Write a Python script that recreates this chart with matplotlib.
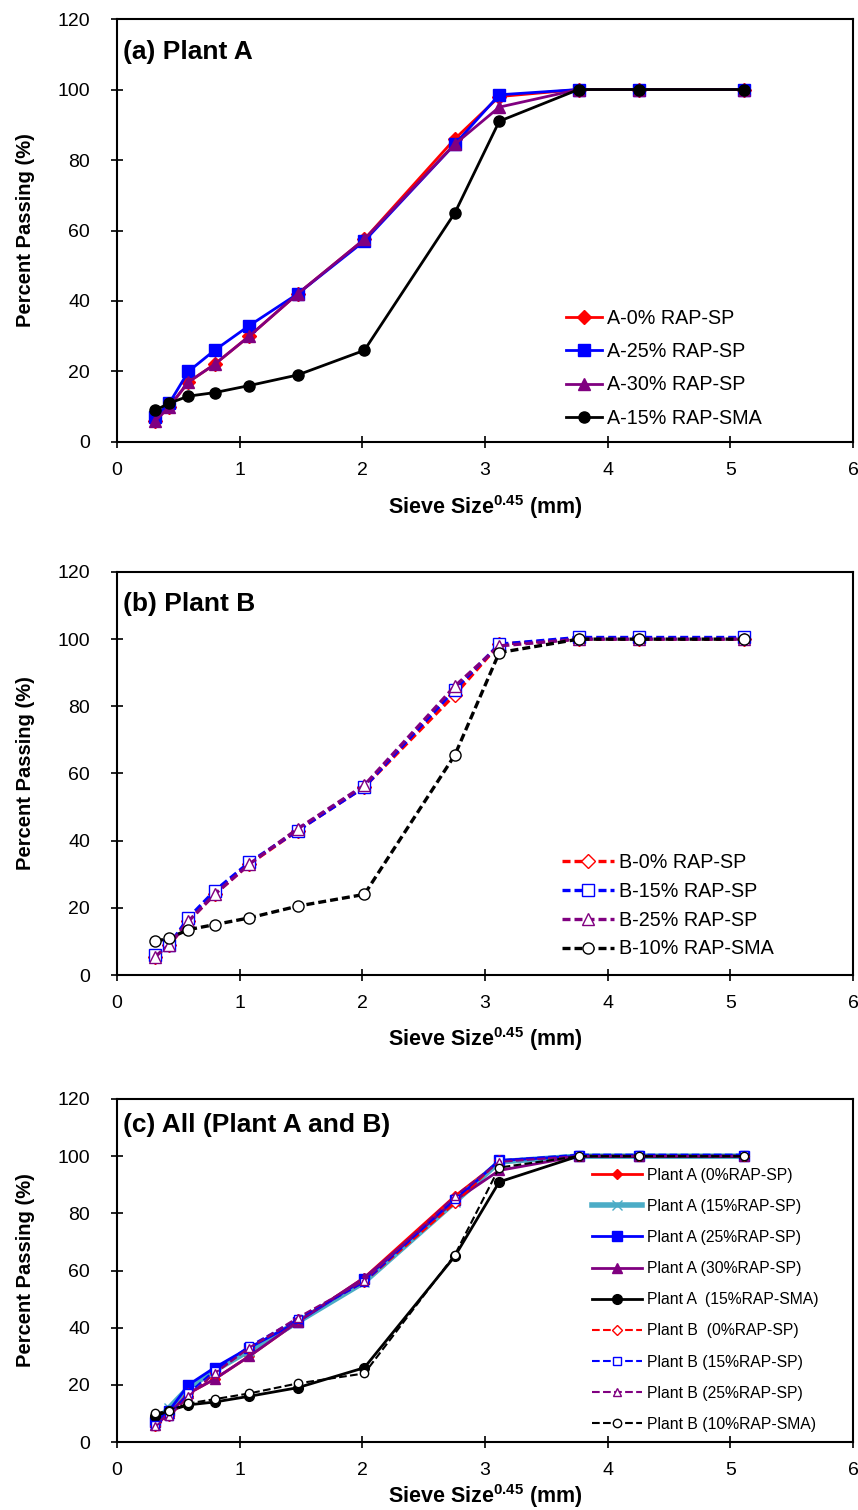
import matplotlib

matplotlib.use("Agg")
import matplotlib.pyplot as plt
import numpy as np

plt.rcParams["font.family"] = ["Liberation Sans", "DejaVu Sans"]
plt.rcParams["mathtext.fontset"] = "custom"
plt.rcParams["mathtext.rm"] = "Liberation Sans"
plt.rcParams["mathtext.bf"] = "Liberation Sans:bold"

# sieve openings (mm); plotted on the 0.45 power scale
sieve_mm = [0.075, 0.15, 0.3, 0.6, 1.18, 2.36, 4.75, 9.5, 12.5, 19.0, 25.0, 37.5]

a_0_sp = [6, 10, 17, 22, 30, 42, 57.5, 86, 98, 100, 100, 100]
a_15_sp = [7, 12, 19, 25, 32, 42, 56, 84, 98, 100, 100, 100]
a_25_sp = [7, 11, 20, 26, 33, 42, 57, 84.5, 98.5, 100, 100, 100]
a_30_sp = [6, 10, 17, 22, 30, 42, 57.5, 84.5, 95, 100, 100, 100]
a_15_sma = [9, 11, 13, 14, 16, 19, 26, 65, 91, 100, 100, 100]

b_0_sp = [5.5, 9, 16, 24, 33, 43, 56, 83.5, 98.5, 100, 100, 100]
b_15_sp = [6, 9, 17, 25, 33.5, 43, 56, 85, 98.5, 100.5, 100.5, 100.5]
b_25_sp = [5.5, 9, 16, 24, 33, 43.5, 56.5, 86, 98, 100, 100, 100]
b_10_sma = [10, 11, 13.5, 15, 17, 20.5, 24, 65.5, 96, 100, 100, 100]

x = np.array(sieve_mm) ** 0.45

RED, BLUE, PURPLE, BLACK, CYAN = "#FF0000", "#0000FF", "#800080", "#000000", "#4BACC6"
H_PX = 1510

fig = plt.figure(figsize=(8.58, 15.10), dpi=100)
L, W = 0.1364, 0.8578
ax_a = fig.add_axes([L, 0.7073, W, 0.2801])
ax_b = fig.add_axes([L, 0.3543, W, 0.2669])
ax_c = fig.add_axes([L, 0.0450, W, 0.2272])


def frame(ax, title, title_dy, xlab_dy):
    ax.set_xlim(0, 6)
    ax.set_ylim(0, 120)
    ax.set_xticks(range(0, 7))
    ax.set_yticks(range(0, 121, 20))
    ax.tick_params(direction="inout", length=9, width=1.2, labelsize=14)
    ax.tick_params(axis="y", pad=15)
    ax.tick_params(axis="x", pad=10)
    for s in ax.spines.values():
        s.set_linewidth(1.5)
    h = ax.get_position().height * H_PX
    ax.set_xlabel(r"Sieve Size$^{\mathbf{0.45}}$ (mm)", fontsize=15.5, fontweight="bold")
    ax.xaxis.set_label_coords(0.5, -xlab_dy / h)
    ax.set_ylabel("Percent Passing (%)", fontsize=14.5, fontweight="bold")
    ax.yaxis.set_label_coords(-0.111, 0.5)
    ax.annotate(title, xy=(0, 1), xycoords="axes fraction", xytext=(6, -title_dy),
                textcoords="offset pixels", fontsize=19, fontweight="bold", va="center", ha="left")


# (a) Plant A
ax_a.plot(x, a_0_sp, color=RED, lw=2, marker="D", ms=7, label="A-0% RAP-SP")
ax_a.plot(x, a_25_sp, color=BLUE, lw=2, marker="s", ms=8, label="A-25% RAP-SP")
ax_a.plot(x, a_30_sp, color=PURPLE, lw=2, marker="^", ms=9, label="A-30% RAP-SP")
ax_a.plot(x, a_15_sma, color=BLACK, lw=2, marker="o", ms=8, label="A-15% RAP-SMA")
frame(ax_a, "(a) Plant A", 33, 51)
ax_a.legend(loc="center left", bbox_to_anchor=(0.610, 0.174), frameon=False, fontsize=14.2,
            handlelength=1.85, handletextpad=0.25, labelspacing=0.72, borderpad=0, borderaxespad=0)

# (b) Plant B
dash = (0, (2.4, 1.2))
ax_b.plot(x, b_0_sp, color=RED, lw=2.4, ls=dash, marker="D", ms=7, mfc="white", mew=1, label="B-0% RAP-SP")
ax_b.plot(x, b_15_sp, color=BLUE, lw=2.4, ls=dash, marker="s", ms=8, mfc="white", mew=1, label="B-15% RAP-SP")
ax_b.plot(x, b_25_sp, color=PURPLE, lw=2.4, ls=dash, marker="^", ms=9, mfc="white", mew=1, label="B-25% RAP-SP")
ax_b.plot(x, b_10_sma, color=BLACK, lw=2.4, ls=dash, marker="o", ms=8, mfc="white", mew=1, label="B-10% RAP-SMA")
frame(ax_b, "(b) Plant B", 32, 50)
ax_b.legend(loc="center left", bbox_to_anchor=(0.605, 0.172), frameon=False, fontsize=14.2,
            handlelength=2.6, handletextpad=0.25, labelspacing=0.5, borderpad=0, borderaxespad=0)

# (c) both plants
ax_c.plot(x, a_0_sp, color=RED, lw=2, marker="D", ms=5, label="Plant A (0%RAP-SP)")
ax_c.plot(x, a_15_sp, color=CYAN, lw=4, marker="x", ms=7, mew=1, label="Plant A (15%RAP-SP)")
ax_c.plot(x, a_25_sp, color=BLUE, lw=2, marker="s", ms=7, label="Plant A (25%RAP-SP)")
ax_c.plot(x, a_30_sp, color=PURPLE, lw=2, marker="^", ms=7, label="Plant A (30%RAP-SP)")
ax_c.plot(x, a_15_sma, color=BLACK, lw=2, marker="o", ms=7, label="Plant A  (15%RAP-SMA)")
ax_c.plot(x, b_0_sp, color=RED, lw=1.5, ls="--", marker="D", ms=5, mfc="white", label="Plant B  (0%RAP-SP)")
ax_c.plot(x, b_15_sp, color=BLUE, lw=1.5, ls="--", marker="s", ms=6, mfc="white", label="Plant B (15%RAP-SP)")
ax_c.plot(x, b_25_sp, color=PURPLE, lw=1.5, ls="--", marker="^", ms=6, mfc="white", label="Plant B (25%RAP-SP)")
ax_c.plot(x, b_10_sma, color=BLACK, lw=1.5, ls="--", marker="o", ms=6, mfc="white", label="Plant B (10%RAP-SMA)")
frame(ax_c, "(c) All (Plant A and B)", 26, 40)
ax_c.legend(loc="center left", bbox_to_anchor=(0.645, 0.415), frameon=False, fontsize=11.3,
            handlelength=3.2, handletextpad=0.3, labelspacing=1.03, borderpad=0, borderaxespad=0)

fig.savefig("out.png", dpi=100)
